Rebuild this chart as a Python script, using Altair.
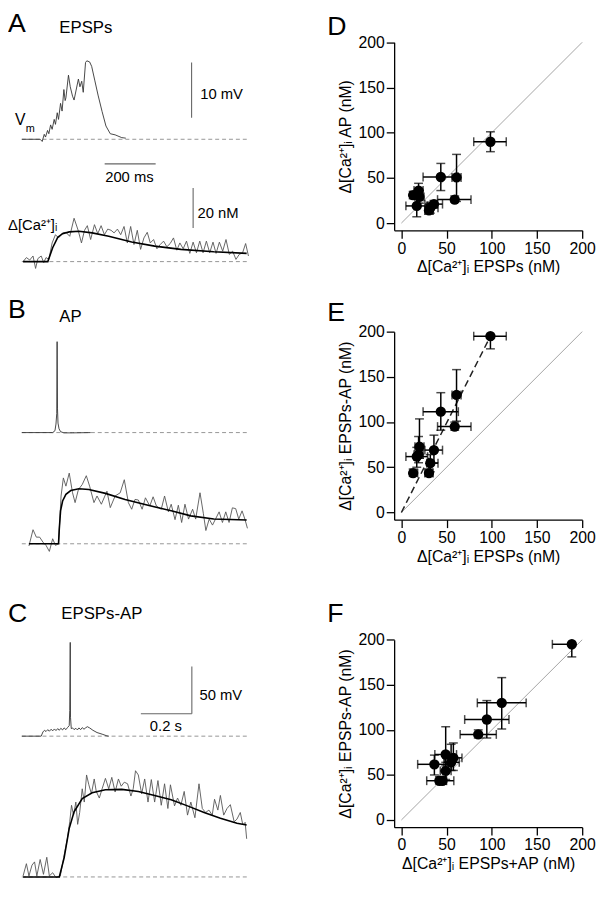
import altair as alt
import pandas as pd

W, H = 597, 891
FONT = "Liberation Sans"

# ---------------- Panel A (EPSP train) ----------------
a_vm_t = [0, 72, 80, 88, 93, 101, 106, 113, 119, 127, 132, 139, 144, 152, 158, 165, 170, 173, 183, 190,
          199, 205, 222, 228, 235, 241, 250, 255, 266, 274, 286, 299, 315, 330, 347, 366, 392, 408]
a_vm_v = [0, 0, -0.4, 0.9, 0.4, 1.6, 1.0, 2.6, 1.8, 3.6, 2.7, 4.8, 3.6, 6.5, 5.1, 9.0, 7.0, 7.5, 11.6, 9.5,
          7.8, 7.1, 10.9, 9.5, 10.5, 8.5, 13.9, 14.2, 14.0, 13.2, 10.7, 8.0, 5.0, 2.4, 1.0, 0.8, 0.3, 0.2]
a_ca_t = [5, 18, 31, 44, 54, 63, 76, 86, 95, 106, 119, 132, 144, 160, 173, 188, 205, 221, 234, 246,
          257, 270, 285, 298, 311, 324, 337, 350, 362, 375, 388, 401, 414, 427, 440, 453, 466, 479, 492, 504,
          517, 530, 543, 556, 569, 582, 595, 608, 620, 633, 646, 659, 672, 685, 698, 711, 724, 737, 750, 762,
          775, 788, 801, 814, 827, 840, 853, 866, 878, 889]
a_ca_v = [0, 2, 0.8, 2.8, -3.4, 1.5, 2.8, -0.5, 2, 1.1, 9.3, 13.4, 11.8, 14.3, 14.6, 12.6, 21.6, 15.6, 9.3, 15.6,
          17.9, 11, 18.4, 13.9, 17.9, 13.4, 16.2, 15.6, 14.3, 16.2, 13.4, 17.5, 9.3, 17.5, 8.5, 15.6, 6.1, 11.8, 14.6, 9.3,
          11, 6.4, 8.5, 10.2, 7.4, 9, 11.8, 5.7, 9.3, 6.4, 10.2, 4.1, 9.7, 4.4, 10.2, 4.4, 10.2, 4.4, 9.7, 4.1,
          9.7, 5.2, 11, 3.6, 5.2, 1.1, 3.6, 4.4, 9, 2.8]
a_fit_t = [5, 102, 121, 141, 160, 186, 224, 276, 341, 431, 521, 624, 753, 882]
a_fit_v = [0, 0, 6.9, 12.1, 13.9, 14.8, 15.1, 14.3, 12.6, 9.8, 7.7, 6.1, 4.9, 4.1]

# ---------------- Panel B (single AP) ----------------
b_vm_t = [0, 121, 130, 134, 137, 138.5, 140, 142, 146, 152, 165, 199, 270]
b_vm_v = [0, 0, 2, 9, 20, 96, 25, 10, 4, 1, -0.3, -0.3, 0]
b_ca_t = [28, 44, 57, 70, 83, 95, 108, 121, 132, 144, 154, 163, 173, 186, 199, 209, 222, 237, 253, 266,
          283, 295, 312, 334, 347, 366, 386, 402, 418, 431, 444, 457, 472, 485, 502, 515, 528, 547, 560, 575,
          586, 601, 614, 627, 640, 654, 670, 682, 699, 712, 722, 735, 748, 761, 774, 787, 800, 813, 826, 839,
          851, 864, 875, 885]
b_ca_v = [-1.1, 7.0, 3.3, 3.3, 0.8, -0.8, -3.8, 2.5, -0.8, 0, 23.8, 32.8, 28.7, 35.2, 25.4, 20.5, 27, 29.5, 33.9, 28.7,
          20.5, 23.8, 19.7, 26.2, 18, 23.8, 25.4, 31.9, 20.5, 17.2, 22.1, 21.8, 17.2, 22.9, 18.8, 23.4, 18.8, 17.2, 23.8, 15.9,
          19.7, 12, 19.2, 10.6, 19.7, 12.3, 17.2, 12.3, 25.4, 15.2, 6.6, 12.3, 9.3, 12.6, 15.9, 10.6, 15.9, 10.6, 17.9, 17.5,
          12.3, 16.4, 12.3, 7.7]
b_fit_t = [28, 144, 147, 152, 160, 173, 192, 224, 263, 328, 405, 495, 586, 663, 753, 882]
b_fit_v = [0, 0, 7.4, 16.4, 21.3, 24.6, 26.5, 27.4, 27, 25.1, 22.1, 19.2, 16.4, 13.9, 12.3, 11.8]

# ---------------- Panel C (EPSPs paired with AP) ----------------
c_vm_t = [0, 76, 83, 89, 95, 102, 108, 115, 121, 128, 134, 141, 147, 153, 160, 166, 173, 179, 186, 188,
          190, 191, 194, 199, 205, 212, 218, 224, 231, 237, 244, 250, 257, 266, 279, 295, 315, 334, 341]
c_vm_v = [0, 0, 4.5, 6.2, 4.9, 6.9, 5.2, 7.3, 5.6, 7.6, 5.9, 8, 6.2, 8.3, 6.6, 8.7, 6.9, 9, 11.1, 27,
          99, 20, 8, 8.7, 6.9, 8.3, 6.6, 8.7, 6.9, 9, 7.3, 8.7, 10, 8.7, 6.2, 3.8, 2.1, 0.3, 0]
c_ca_t = [5, 18, 28, 40, 50, 59, 72, 85, 98, 108, 121, 134, 151, 166, 179, 188, 195, 203, 212, 219,
          227, 237, 245, 254, 263, 273, 284, 292, 304, 315, 328, 341, 353, 366, 379, 390, 402, 415, 428, 437,
          446, 457, 470, 482, 495, 508, 521, 534, 547, 560, 573, 583, 599, 611, 624, 637, 650, 663, 679, 695,
          708, 721, 734, 747, 756, 769, 779, 792, 805, 818, 833, 844, 857, 867, 876, 882]
c_ca_v = [0.5, 6.6, 0.5, 5.9, 7.5, 0.5, 8.7, 1.3, 9.8, 0.5, 2.1, -0.3, 0.5, 10.8, 19.3, 27.5, 35.7, 30.8, 37.3, 26.2,
          32.1, 43.9, 37.3, 50.8, 45.9, 41.4, 48.8, 42.6, 39.3, 43.9, 49.1, 43.9, 49.6, 42.3, 48.8, 45.2, 47.2, 46.4, 40.3, 43.9,
          52.9, 50.8, 41.4, 48.8, 37.3, 48.5, 37.3, 48, 35.7, 46.4, 34.1, 45.9, 35.4, 39.3, 35.7, 42.6, 30.8, 37.3, 29.5, 46.4,
          34.1, 32.1, 33.3, 30.8, 38.7, 33.3, 40.6, 30.8, 34.1, 36, 27.5, 28.8, 32.1, 25.9, 27.2, 19]
c_fit_t = [5, 147, 166, 186, 205, 237, 276, 328, 392, 457, 521, 586, 650, 715, 779, 844, 882]
c_fit_v = [0, 0, 9.5, 24.2, 32.4, 39, 41.9, 43.4, 43.6, 42.6, 40.6, 38.5, 35.4, 32.1, 29.2, 26.7, 25.9]

# ---------------- Scatter data (one entry per cell) ----------------
epsp    = [98.5, 43.6, 61, 59, 20, 36, 17, 32, 13, 30.5, 19]
epsp_lo = [80, 24, 56, 40, 15, 26, 5, 28, 10, 26, 14]
epsp_hi = [116, 63, 66, 77, 25, 45.5, 29, 40.5, 18, 35, 24]
ap      = [90, 51, 50.5, 26, 29, 21, 19, 17, 31, 14, 36]
ap_lo   = [79, 36, 24, 23, 22, 17, 7, 11, 27, 10, 28]
ap_hi   = [101, 66, 76, 30, 36, 25, 31, 23, 35, 18, 44]
pair    = [195, 111.5, 130, 95, 72.7, 69, 61.8, 54.5, 43.6, 43.6, 64]
pair_lo = [181, 91, 101, 91, 60, 55, 50, 45, 40, 40, 55]
pair_hi = [195, 132.5, 158, 100, 103.5, 85.5, 72, 64, 48, 48, 84]
summ    = [188.5, 94.5, 111, 85, 49, 57.5, 36.5, 49, 42, 45.5, 55]
summ_lo = [167, 70, 84, 65, 37, 48, 18, 43, 28, 40, 47]
summ_hi = [189, 119, 138, 105, 61, 67, 52, 55, 50, 58, 64]
identity = [0, 200]
e_fit_x = [0, 98.5]
e_fit_y = [0, 195]
ticks = [0, 50, 100, 150, 200]

CA = "Δ[Ca²⁺]ᵢ"


def px(v):  # reference-page pixel -> view pixel (layout only)
    return v - 8


# ---------------- trace panels ----------------
def tscale():
    return alt.Scale(domain=[0, 894], range=[px(22), px(253)], nice=False, zero=False)


def yscale(zero_ref, ppu):
    return alt.Scale(domain=[0, 10], range=[px(zero_ref), px(zero_ref) - 10 * ppu], nice=False, zero=False)


def trace_panel(t, v, ys, fit=None, trace_color="#555555", trace_w=0.9,
                left_labels=None, center_labels=None, bars=None):
    def X(f):
        return alt.X(f, type="quantitative", scale=tscale(), axis=None)

    def Y(f):
        return alt.Y(f, type="quantitative", scale=ys, axis=None)

    layers = []
    base = pd.DataFrame({"t0": [0], "t1": [894], "v": [0]})
    layers.append(alt.Chart(base).mark_rule(color="#8a8a8a", strokeDash=[4, 3], strokeWidth=0.9)
                  .encode(x=X("t0"), x2=alt.X2("t1"), y=Y("v")))
    df = pd.DataFrame({"t": t, "v": v})
    layers.append(alt.Chart(df).mark_line(color=trace_color, strokeWidth=trace_w)
                  .encode(x=X("t"), y=Y("v")))
    if fit is not None:
        fd = pd.DataFrame({"t": fit[0], "v": fit[1]})
        layers.append(alt.Chart(fd).mark_line(color="black", strokeWidth=1.6)
                      .encode(x=X("t"), y=Y("v")))
    if bars:
        bd = pd.DataFrame(bars, columns=["t0", "v0", "t1", "v1"])
        layers.append(alt.Chart(bd).mark_rule(color="#666666", strokeWidth=1.1)
                      .encode(x=X("t0"), x2=alt.X2("t1"), y=Y("v0"), y2=alt.Y2("v1")))
    for labels, align in ((left_labels, "left"), (center_labels, "center")):
        if labels:
            ld = pd.DataFrame(labels, columns=["s", "t", "v", "fs"])
            layers.append(alt.Chart(ld).mark_text(align=align, baseline="middle", font=FONT, color="black")
                          .encode(x=X("t"), y=Y("v"), text="s:N",
                                  size=alt.Size("fs:Q", scale=None, legend=None)))
    return alt.layer(*layers)


panel_a_vm = trace_panel(
    a_vm_t, a_vm_v, yscale(135, 5.6), trace_color="#333333",
    left_labels=[["A", -54, 20.9, 27], ["EPSPs", 147, 20.2, 17], ["V", -27, 3.4, 16],
                 ["m", 15, 1.8, 11], ["10 mV", 700, 8.2, 15]],
    center_labels=[["200 ms", 422, -6.8, 15]],
    bars=[[666, 3.9, 666, 13.9], [325, -4.46, 525, -4.46]])
panel_a_ca = trace_panel(
    a_ca_t, a_ca_v, yscale(259, 2.035), fit=(a_fit_t, a_fit_v),
    left_labels=[[CA, -54, 18.2, 15], ["20 nM", 689, 24.1, 15]],
    bars=[[672, 16.7, 672, 36.7]])
panel_b_vm = trace_panel(
    b_vm_t, b_vm_v, yscale(432.3, 0.96), trace_color="#333333",
    left_labels=[["B", -54, 129.5, 27], ["AP", 147, 122.4, 17]])
panel_b_ca = trace_panel(b_ca_t, b_ca_v, yscale(545, 2.035), fit=(b_fit_t, b_fit_v))
panel_c_vm = trace_panel(
    c_vm_t, c_vm_v, yscale(740, 0.96), trace_color="#333333",
    left_labels=[["C", -54, 128.6, 27], ["EPSPs-AP", 155, 128.6, 17], ["50 mV", 697, 43.8, 15]],
    center_labels=[["0.2 s", 565, 10.4, 15]],
    bars=[[667, 23.6, 667, 73.6], [467, 23.6, 667, 23.6]])
panel_c_ca = trace_panel(c_ca_t, c_ca_v, yscale(882.7, 2.035), fit=(c_fit_t, c_fit_v))


# ---------------- scatter panels ----------------
def scatter_panel(xv, xlo, xhi, yv, ylo, yhi, y_bottom_ref, y_top_ref, xtitle, ytitle,
                  letter, letter_y, fit=None):
    xs = alt.Scale(domain=[-8, 200], range=[px(399.4), px(590)], nice=False, zero=False)
    ys = alt.Scale(domain=[-8, 200], range=[px(y_bottom_ref), px(y_top_ref)], nice=False, zero=False)
    common = dict(values=ticks, grid=False, tickSize=8, tickWidth=1.3, domainWidth=1.3,
                  domainColor="black", tickColor="black", labelColor="black", titleColor="black",
                  labelFont=FONT, titleFont=FONT, labelFontSize=16, titleFontSize=16,
                  titleFontWeight="normal", labelFlush=False, labelOverlap=False)
    xax = alt.Axis(orient="bottom", offset=px(y_bottom_ref) - H, title=xtitle,
                   labelPadding=2, titlePadding=3, **common)
    yax = alt.Axis(orient="left", offset=-px(399.4), title=ytitle,
                   labelPadding=2, titlePadding=5, **common)

    def X(f):
        return alt.X(f, type="quantitative", scale=xs, axis=xax)

    def Y(f):
        return alt.Y(f, type="quantitative", scale=ys, axis=yax)

    df = pd.DataFrame({"x": xv, "xlo": xlo, "xhi": xhi, "y": yv, "ylo": ylo, "yhi": yhi})
    layers = []
    idf = pd.DataFrame({"x": identity, "y": identity})
    layers.append(alt.Chart(idf).mark_line(color="#9a9a9a", strokeWidth=0.9).encode(x=X("x"), y=Y("y")))
    if fit is not None:
        fdf = pd.DataFrame({"x": fit[0], "y": fit[1]})
        layers.append(alt.Chart(fdf).mark_line(color="#222222", strokeWidth=1.5, strokeDash=[7, 4])
                      .encode(x=X("x"), y=Y("y")))
    layers.append(alt.Chart(df).mark_rule(color="black", strokeWidth=1.5)
                  .encode(x=X("x"), y=Y("ylo"), y2=alt.Y2("yhi")))
    layers.append(alt.Chart(df).mark_rule(color="black", strokeWidth=1.5)
                  .encode(x=X("xlo"), x2=alt.X2("xhi"), y=Y("y")))
    for f in ("ylo", "yhi"):
        layers.append(alt.Chart(df).mark_tick(color="black", orient="horizontal", size=9, thickness=1.5)
                      .encode(x=X("x"), y=Y(f)))
    for f in ("xlo", "xhi"):
        layers.append(alt.Chart(df).mark_tick(color="black", orient="vertical", size=9, thickness=1.5)
                      .encode(x=X(f), y=Y("y")))
    layers.append(alt.Chart(df).mark_circle(color="black", opacity=1, size=110)
                  .encode(x=X("x"), y=Y("y")))
    ld = pd.DataFrame({"s": [letter], "x": [-82], "y": [letter_y]})
    layers.append(alt.Chart(ld).mark_text(align="left", baseline="middle", font=FONT, fontSize=27, color="black")
                  .encode(x=X("x"), y=Y("y"), text="s:N"))
    return alt.layer(*layers)


panel_d = scatter_panel(epsp, epsp_lo, epsp_hi, ap, ap_lo, ap_hi, 227.3, 36.7,
                        f"{CA} EPSPs (nM)", f"{CA} AP (nM)", "D", 217)
panel_e = scatter_panel(epsp, epsp_lo, epsp_hi, pair, pair_lo, pair_hi, 520.6, 330,
                        f"{CA} EPSPs (nM)", f"{CA} EPSPs-AP (nM)", "E", 221, fit=(e_fit_x, e_fit_y))
panel_f = scatter_panel(summ, summ_lo, summ_hi, pair, pair_lo, pair_hi, 832.3, 642.3,
                        f"{CA} EPSPs+AP (nM)", f"{CA} EPSPs-AP (nM)", "F", 229)

chart = (
    alt.layer(panel_a_vm, panel_a_ca, panel_b_vm, panel_b_ca, panel_c_vm, panel_c_ca,
              panel_d, panel_e, panel_f)
    .resolve_scale(x="independent", y="independent")
    .properties(width=W, height=H, padding=0, autosize=alt.AutoSizeParams(type="none"),
                background="white")
    .configure(font=FONT)
    .configure_view(stroke=None)
)

chart.save("out.html", embed_options={"renderer": "svg", "actions": False})
